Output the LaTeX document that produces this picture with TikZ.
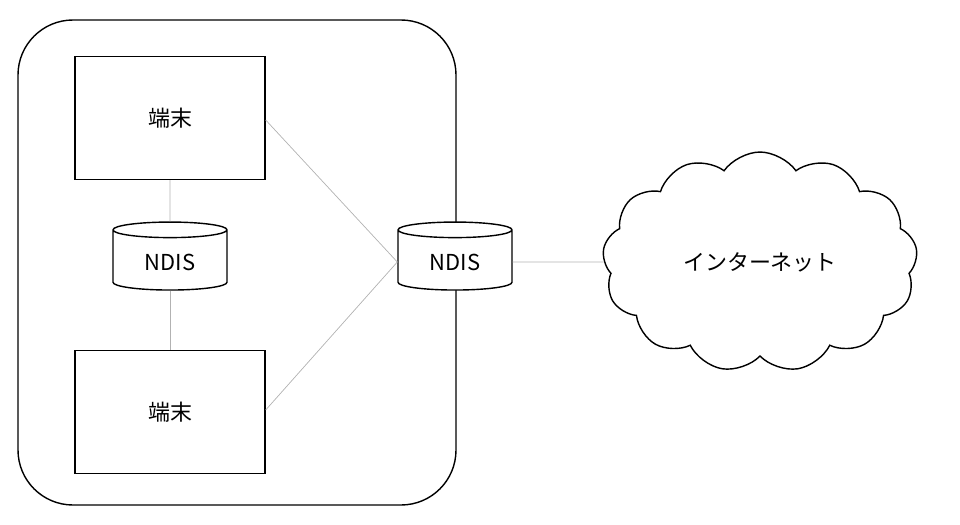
\documentclass[tikz,border=0pt]{standalone}
\usepackage{fontspec}
\setmainfont{Noto Sans CJK JP}
\usetikzlibrary{shapes.geometric,shapes.symbols}
\begin{document}
\begin{tikzpicture}[x=0.02cm,y=-0.02cm, font=\fontsize{12.5}{15}\selectfont,
  box/.style={rectangle, draw, thick, minimum width=3.8cm, minimum height=2.46cm},
  drum/.style={cylinder, draw, thick, fill=white, shape border rotate=90, aspect=0.25,
    minimum width=2.28cm, minimum height=1.36cm},
  link/.style={draw=black!30}]
 \useasboundingbox (0,0) rectangle (960,524);
 \draw[thick, rounded corners=1.1cm] (18,20) rectangle (456,505);
 \node[box] (T1) at (170,118) {端末};
 \node[box] (T2) at (170,412) {端末};
 \node[drum] (N1) at (170,262) {NDIS};
 \node[drum] (N2) at (455,262) {NDIS};
 \node[cloud, draw, thick, cloud puffs=13, cloud puff arc=110, aspect=1.45,
   minimum width=6.3cm, minimum height=4.4cm] (NET) at (760,262) {インターネット};

 \draw[link] (T1) -- (N1);
 \draw[link] (N1) -- (T2);
 \draw[link] (T1.east) ++(0,2) -- (N2.west);
 \draw[link] (T2.east) ++(0,-2) -- (N2.west);
 \draw[link] (N2) -- (NET);
\end{tikzpicture}
\end{document}
